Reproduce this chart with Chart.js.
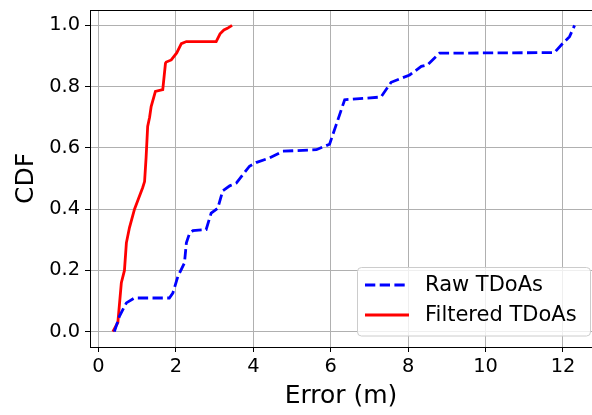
<!DOCTYPE html>
<html>
<head>
<meta charset="utf-8">
<script src="https://cdn.jsdelivr.net/npm/chart.js@4/dist/chart.umd.min.js"></script>
<style>
html, body { margin: 0; padding: 0; overflow: hidden; background: #fff; }
canvas { display: block; }
</style>
</head>
<body>
<canvas id="cdfChart" width="592" height="415"></canvas>
<script>
// CDF of localisation error, raw vs filtered TDoAs

const seriesLabels = ["Raw TDoAs", "Filtered TDoAs"];

const rawErr = [0.41, 0.54, 0.72, 0.93, 1.83, 1.92, 2.05, 2.22, 2.27, 2.35, 2.44, 2.78, 2.91, 3.08,
    3.21, 3.39, 3.56, 3.90, 4.07, 4.42, 4.76, 5.63, 5.97, 6.14, 6.36, 7.30, 7.56, 8.04, 8.34, 8.50,
    8.81, 11.78, 12.00, 12.17, 12.30];
const rawCdf = [0, 0.05, 0.094, 0.11, 0.11, 0.126, 0.18, 0.224, 0.29, 0.32, 0.33, 0.333, 0.387, 0.403,
    0.46, 0.476, 0.485, 0.54, 0.552, 0.567, 0.589, 0.594, 0.612, 0.675, 0.757, 0.766, 0.814, 0.838, 0.866, 0.871,
    0.909, 0.911, 0.942, 0.963, 1.0];

const filtErr = [0.37, 0.50, 0.59, 0.67, 0.72, 0.80, 0.93, 1.02, 1.14, 1.19, 1.23, 1.27, 1.32, 1.36,
    1.47, 1.66, 1.73, 1.75, 1.88, 2.02, 2.14, 2.27, 3.04, 3.14, 3.24, 3.33, 3.45];
const filtCdf = [0, 0.03, 0.16, 0.20, 0.29, 0.34, 0.40, 0.43, 0.47, 0.49, 0.57, 0.67, 0.70, 0.735,
    0.784, 0.79, 0.876, 0.88, 0.887, 0.91, 0.94, 0.947, 0.947, 0.972, 0.985, 0.99, 1.0];

const xTicks = [0, 2, 4, 6, 8, 10, 12];
const yTicks = [0, 0.2, 0.4, 0.6, 0.8, 1.0];

const FONT = "DejaVu Sans";

function toPoints(xs, ys) {
    return xs.map((x, i) => ({ x: x, y: ys[i] }));
}

// top spine; left and bottom come from the axis borders, the right one is cut off
const frameBox = {
    id: 'frameBox',
    afterDatasetsDraw(chart) {
        const a = chart.chartArea;
        const ctx = chart.ctx;
        const y = Math.round(a.top) + 0.5;
        ctx.save();
        ctx.strokeStyle = '#000';
        ctx.lineWidth = 1;
        ctx.beginPath();
        ctx.moveTo(a.left, y);
        ctx.lineTo(a.right, y);
        ctx.stroke();
        ctx.restore();
    }
};

// legend box in the lower right corner
const boxLegend = {
    id: 'boxLegend',
    afterDraw(chart) {
        const ctx = chart.ctx;
        const x0 = 357.5, y0 = 267.5, w = 233, h = 68.5, r = 4;
        ctx.save();
        ctx.beginPath();
        ctx.roundRect(x0, y0, w, h, r);
        ctx.fillStyle = 'rgba(255,255,255,0.8)';
        ctx.fill();
        ctx.strokeStyle = '#cccccc';
        ctx.lineWidth = 1;
        ctx.stroke();

        chart.data.datasets.forEach((ds, i) => {
            const y = 285 + i * 30;
            ctx.beginPath();
            ctx.setLineDash(ds.borderDash || []);
            ctx.strokeStyle = ds.borderColor;
            ctx.lineWidth = ds.borderWidth;
            ctx.moveTo(365, y);
            ctx.lineTo(409, y);
            ctx.stroke();
            ctx.setLineDash([]);
            ctx.fillStyle = '#000';
            ctx.font = '21px "' + FONT + '"';
            ctx.textBaseline = 'middle';
            ctx.fillText(ds.label, 425, y + 1);
        });
        ctx.restore();
    }
};

const ctx = document.getElementById('cdfChart').getContext('2d');
const cdfChart = new Chart(ctx, {
    type: 'scatter',
    data: {
        datasets: [{
            label: seriesLabels[0],
            data: toPoints(rawErr, rawCdf),
            showLine: true,
            borderColor: '#0000ff',
            borderWidth: 2.8,
            borderDash: [10.3, 4.4],
            pointRadius: 0,
            tension: 0,
            fill: false
        }, {
            label: seriesLabels[1],
            data: toPoints(filtErr, filtCdf),
            showLine: true,
            borderColor: '#ff0000',
            borderWidth: 2.8,
            pointRadius: 0,
            tension: 0,
            fill: false
        }]
    },
    options: {
        responsive: false,
        animation: false,
        devicePixelRatio: 1,
        layout: { padding: { top: 10, right: 0, left: 0, bottom: 0 } },
        plugins: {
            legend: { display: false },
            tooltip: { enabled: false }
        },
        scales: {
            x: {
                type: 'linear',
                min: -0.22,
                max: 12.75,
                afterBuildTicks: (s) => { s.ticks = xTicks.map(v => ({ value: v })); },
                afterFit: (s) => { s.height = 68; s.paddingLeft = 0; s.paddingRight = 0; },
                grid: { color: '#b0b0b0', lineWidth: 1, tickColor: '#000', tickLength: 5 },
                border: { color: '#000', width: 1 },
                ticks: {
                    color: '#000',
                    font: { family: FONT, size: 19.4 },
                    padding: 3,
                    maxRotation: 0,
                    callback: (v) => String(v)
                },
                title: {
                    display: true,
                    text: 'Error (m)',
                    color: '#000',
                    font: { family: FONT, size: 25 },
                    padding: { top: 0, bottom: 4 }
                }
            },
            y: {
                type: 'linear',
                min: -0.05,
                max: 1.05,
                afterBuildTicks: (s) => { s.ticks = yTicks.map(v => ({ value: v })); },
                afterFit: (s) => { s.width = 90; s.paddingTop = 0; s.paddingBottom = 0; },
                grid: { color: '#b0b0b0', lineWidth: 1, tickColor: '#000', tickLength: 5 },
                border: { color: '#000', width: 1 },
                ticks: {
                    color: '#000',
                    font: { family: FONT, size: 19.4 },
                    padding: 5,
                    callback: (v) => v.toFixed(1)
                },
                title: {
                    display: true,
                    text: 'CDF',
                    color: '#000',
                    font: { family: FONT, size: 25 },
                    padding: { top: 11, bottom: 0 }
                }
            }
        }
    },
    plugins: [frameBox, boxLegend]
});

console.debug("[UI] Chart initialized");
</script>
</body>
</html>
